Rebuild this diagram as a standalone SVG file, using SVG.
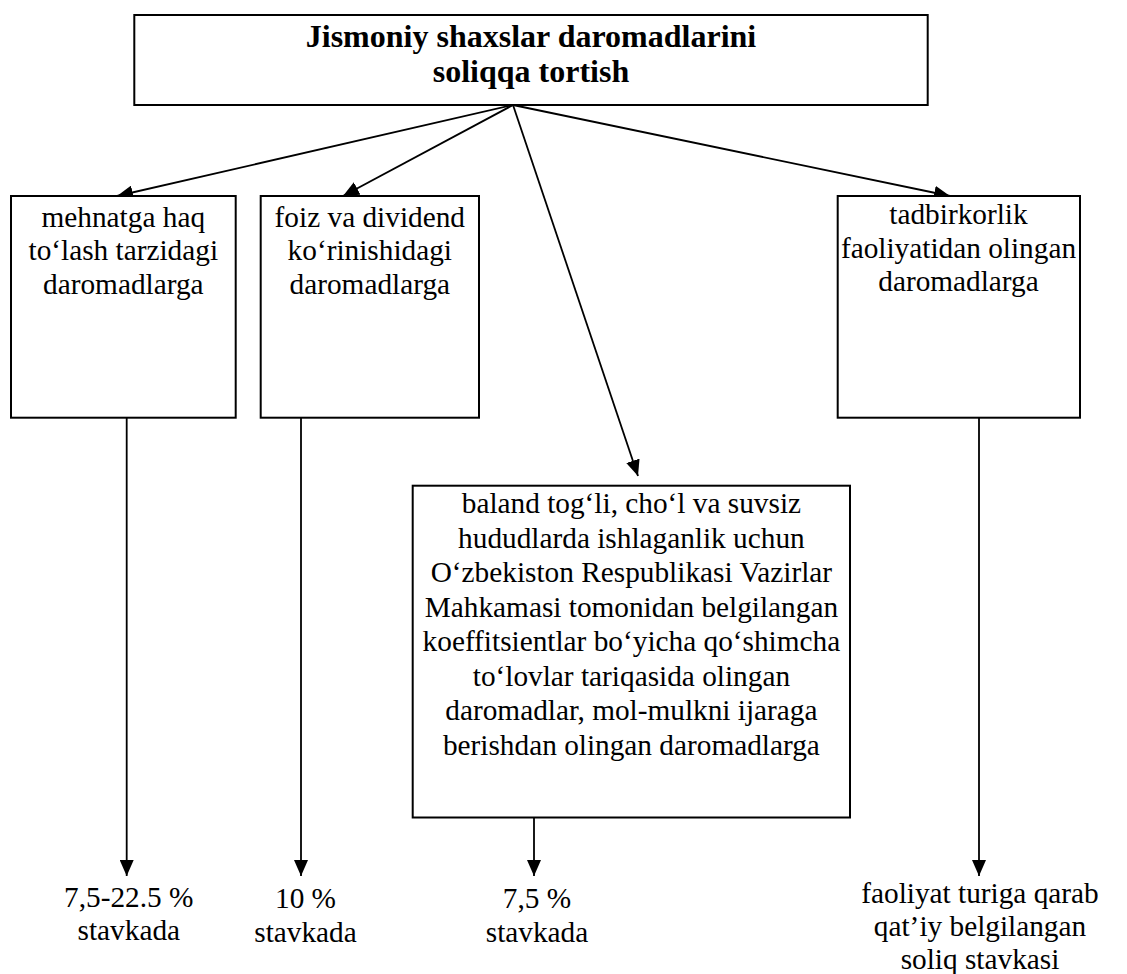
<svg xmlns="http://www.w3.org/2000/svg" width="1127" height="974" viewBox="0 0 1127 974" font-family="Liberation Serif, Times New Roman, serif">
<defs>
<style>
.box{fill:#fff;stroke:#000;stroke-width:2}
.t{font-size:29.3px;fill:#000;text-anchor:middle}
.tb{font-size:32px;font-weight:bold;fill:#000;text-anchor:middle}
.c{stroke:#000;stroke-width:1.8;fill:none;marker-end:url(#ah)}
</style>
<marker id="ah" markerUnits="userSpaceOnUse" markerWidth="16" markerHeight="14" refX="16" refY="7" orient="auto">
<path d="M0,0 L16,7 L0,14 z" fill="#000"/>
</marker>
</defs>
<rect width="1127" height="974" fill="#fff"/>
<g id="connectors">
<line class="c" x1="513" y1="105" x2="117" y2="196"/>
<line class="c" x1="513" y1="105" x2="343" y2="196"/>
<line class="c" x1="513" y1="105" x2="638" y2="476"/>
<line class="c" x1="513" y1="105" x2="950" y2="196"/>
<line class="c" x1="126.7" y1="417.7" x2="126.7" y2="876"/>
<line class="c" x1="301" y1="417.7" x2="301" y2="876"/>
<line class="c" x1="534" y1="817.5" x2="534" y2="876"/>
<line class="c" x1="979" y1="417.7" x2="979" y2="876"/>
</g>
<g id="title">
<rect class="box" x="134.3" y="15" width="793.4" height="90"/>
<text class="tb" x="531" y="47">Jismoniy shaxslar daromadlarini</text>
<text class="tb" x="531" y="82">soliqqa tortish</text>
</g>
<g id="box1">
<rect class="box" x="11" y="196" width="224.7" height="221.7"/>
<text class="t" x="123.3" y="226.5">mehnatga haq</text>
<text class="t" x="123.3" y="260">to‘lash tarzidagi</text>
<text class="t" x="123.3" y="293.5">daromadlarga</text>
</g>
<g id="box2">
<rect class="box" x="260.7" y="196" width="218.3" height="221.7"/>
<text class="t" x="369.8" y="226.5">foiz va dividend</text>
<text class="t" x="369.8" y="260">ko‘rinishidagi</text>
<text class="t" x="369.8" y="293.5">daromadlarga</text>
</g>
<g id="box4">
<rect class="box" x="837.7" y="196" width="242.3" height="221.7"/>
<text class="t" x="958.5" y="224">tadbirkorlik</text>
<text class="t" x="958.5" y="257.5">faoliyatidan olingan</text>
<text class="t" x="958.5" y="291">daromadlarga</text>
</g>
<g id="box3">
<rect class="box" x="412.7" y="485.7" width="437.3" height="331.8"/>
<text class="t" x="631.4" y="513">baland tog‘li, cho‘l va suvsiz</text>
<text class="t" x="631.4" y="547.5">hududlarda ishlaganlik uchun</text>
<text class="t" x="631.4" y="582">O‘zbekiston Respublikasi Vazirlar</text>
<text class="t" x="631.4" y="616.5">Mahkamasi tomonidan belgilangan</text>
<text class="t" x="631.4" y="651">koeffitsientlar bo‘yicha qo‘shimcha</text>
<text class="t" x="631.4" y="685.5">to‘lovlar tariqasida olingan</text>
<text class="t" x="631.4" y="720">daromadlar, mol-mulkni ijaraga</text>
<text class="t" x="631.4" y="754.5">berishdan olingan daromadlarga</text>
</g>
<g id="rate1">
<text class="t" x="128.8" y="907">7,5-22.5 %</text>
<text class="t" x="128.8" y="940">stavkada</text>
</g>
<g id="rate2">
<text class="t" x="305.5" y="908">10 %</text>
<text class="t" x="305.5" y="942">stavkada</text>
</g>
<g id="rate3">
<text class="t" x="537" y="908">7,5 %</text>
<text class="t" x="537" y="942">stavkada</text>
</g>
<g id="rate4">
<text class="t" x="980" y="903">faoliyat turiga qarab</text>
<text class="t" x="980" y="936">qat’iy belgilangan</text>
<text class="t" x="980" y="969">soliq stavkasi</text>
</g>
</svg>
